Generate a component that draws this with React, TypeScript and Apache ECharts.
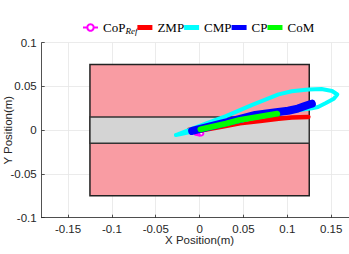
import React, { useEffect, useRef } from "react";
import * as echarts from "echarts";

// Axis settings
const xTicks = [-0.15, -0.1, -0.05, 0, 0.05, 0.1, 0.15];
const xRange = [-0.18, 0.18];
const yRange = [-0.1, 0.1];
const yInterval = 0.05;

// Foot / support regions [x0, y0, x1, y1]
const footRect = [-0.125, -0.075, 0.125, 0.075];
const bandRect = [-0.125, -0.015, 0.125, 0.015];

// Trajectories
const copRefX = [-0.004, -0.002, 0.0, 0.002];
const copRefY = [-0.003, -0.0035, -0.004, -0.0038];

const zmpX = [-0.012, 0.001, 0.025, 0.046, 0.069, 0.09, 0.105, 0.124];
const zmpY = [0.0005, -0.0005, 0.004, 0.008, 0.0105, 0.013, 0.0145, 0.0152];

const cmpX = [-0.027, 0.0, 0.03, 0.06, 0.09, 0.105, 0.124, 0.139, 0.151, 0.157, 0.153, 0.144, 0.135, 0.128, 0.11, 0.09, 0.06, 0.03, 0.0, -0.02, -0.027];
const cmpY = [-0.0055, 0.005, 0.016, 0.029, 0.041, 0.0445, 0.0465, 0.047, 0.0448, 0.0408, 0.036, 0.031, 0.0265, 0.025, 0.0225, 0.019, 0.0135, 0.007, 0.0005, -0.004, -0.0055];

const cpX = [-0.0085, 0.02, 0.045, 0.0635, 0.085, 0.101, 0.112, 0.12, 0.125, 0.128];
const cpY = [-0.0008, 0.0064, 0.0127, 0.0174, 0.0202, 0.0222, 0.0247, 0.0276, 0.0293, 0.0303];

const comX = [0.001, 0.03, 0.046, 0.07, 0.0885];
const comY = [0.001, 0.0075, 0.0118, 0.0158, 0.0189];

const seriesNames = ["CoP_Ref", "ZMP", "CMP", "CP", "CoM"];
const seriesColors = ["#ff00ff", "#ff0000", "#00ffff", "#0000ff", "#00ff00"];

const zip = (xs: number[], ys: number[]) => xs.map((x, i) => [x, ys[i]]);

const barIcon = "path://M0,0L0.01,0L0,0.01ZM0,1.5L15,1.5L15,6.5L0,6.5ZM0,8L0.01,8L0,7.99Z";

const AXIS_COLOR = "#262626";
const SANS = "Liberation Sans, Arial, sans-serif";
const SERIF = "Liberation Serif, Times New Roman, serif";

export default function App() {
  const ref = useRef<HTMLDivElement>(null);

  useEffect(() => {
    if (!ref.current) return;
    const chart = echarts.init(ref.current, undefined, { renderer: "svg" });

    const rectItem = (fill: string, stroke: string) => (params: any, api: any) => {
      const p0 = api.coord([api.value(0), api.value(1)]);
      const p1 = api.coord([api.value(2), api.value(3)]);
      return {
        type: "rect",
        shape: { x: p0[0], y: p1[1], width: p1[0] - p0[0], height: p0[1] - p1[1] },
        style: { fill, stroke, lineWidth: 1.5 },
      };
    };

    const lineSeries = (idx: number, xs: number[], ys: number[], width: number, z: number) => ({
      type: "line",
      name: seriesNames[idx],
      data: zip(xs, ys),
      showSymbol: false,
      symbol: "none",
      lineStyle: { color: seriesColors[idx], width, cap: "round", join: "round" },
      itemStyle: { color: seriesColors[idx] },
      z,
      silent: true,
    });

    chart.setOption({
      animation: false,
      grid: {
        left: 41.7,
        top: 42.7,
        width: 315.8,
        height: 175,
        containLabel: false,
        outerBoundsMode: "none",
      },
      legend: {
        data: [
          { name: seriesNames[0] },
          { name: seriesNames[1], icon: barIcon },
          { name: seriesNames[2], icon: barIcon },
          { name: seriesNames[3], icon: barIcon },
          { name: seriesNames[4], icon: barIcon },
        ],
        left: 77,
        top: 16,
        itemWidth: 15,
        itemHeight: 8,
        itemGap: 0,
        selectedMode: false,
        formatter: (n: string) => (n === "CoP_Ref" ? "{n|CoP}{s|Ref}" : `{n|${n}}`),
        textStyle: {
          fontFamily: SERIF,
          fontSize: 13,
          color: "#000",
          rich: {
            n: { fontFamily: SERIF, fontSize: 13, color: "#000" },
            s: { fontFamily: SERIF, fontSize: 9, fontStyle: "italic", color: "#000", padding: [6, 0, 0, 0] },
          },
        },
      },
      xAxis: {
        type: "value",
        min: xRange[0],
        max: xRange[1],
        name: "X Position(m)",
        nameLocation: "middle",
        nameGap: 17,
        nameMoveOverlap: false,
        nameTextStyle: { fontFamily: SANS, fontSize: 11.5, lineHeight: 11, color: AXIS_COLOR },
        axisLine: { show: true, onZero: false, lineStyle: { color: AXIS_COLOR, width: 0.8 } },
        axisTick: { show: true, inside: true, length: 3, customValues: xTicks, lineStyle: { color: AXIS_COLOR, width: 0.8 } },
        axisLabel: { customValues: xTicks, margin: 6, fontFamily: SANS, fontSize: 11.5, lineHeight: 11, color: AXIS_COLOR },
        splitLine: { show: true, lineStyle: { color: "#e6e6e6", width: 0.8 } },
      },
      yAxis: {
        type: "value",
        min: yRange[0],
        max: yRange[1],
        interval: yInterval,
        name: "Y Position(m)",
        nameLocation: "middle",
        nameGap: 28,
        nameMoveOverlap: false,
        nameTextStyle: { fontFamily: SANS, fontSize: 11.5, color: AXIS_COLOR },
        axisLine: { show: true, onZero: false, lineStyle: { color: AXIS_COLOR, width: 0.8 } },
        axisTick: { show: true, inside: true, length: 3, lineStyle: { color: AXIS_COLOR, width: 0.8 } },
        axisLabel: { margin: 5, fontFamily: SANS, fontSize: 11.5, color: AXIS_COLOR },
        splitLine: { show: true, lineStyle: { color: "#e6e6e6", width: 0.8 } },
      },
      series: [
        {
          type: "custom",
          name: "foot",
          renderItem: rectItem("#f99ca3", "#222"),
          data: [footRect],
          silent: true,
          z: 1,
        },
        {
          type: "custom",
          name: "band",
          renderItem: rectItem("#d4d4d4", "#333"),
          data: [bandRect],
          silent: true,
          z: 1,
        },
        {
          type: "line",
          name: seriesNames[0],
          data: zip(copRefX, copRefY),
          symbol: "emptyCircle",
          symbolSize: 4,
          showSymbol: true,
          lineStyle: { color: seriesColors[0], width: 1.5 },
          itemStyle: { color: seriesColors[0], borderWidth: 1.5 },
          z: 2,
          silent: true,
        },
        lineSeries(1, zmpX, zmpY, 4.5, 3),
        lineSeries(2, cmpX, cmpY, 4, 4),
        lineSeries(3, cpX, cpY, 8, 5),
        lineSeries(4, comX, comY, 6, 6),
      ],
    });

    return () => chart.dispose();
  }, []);

  return <div ref={ref} style={{ position: "absolute", left: 0, top: 0, width: 349, height: 254 }} />;
}
